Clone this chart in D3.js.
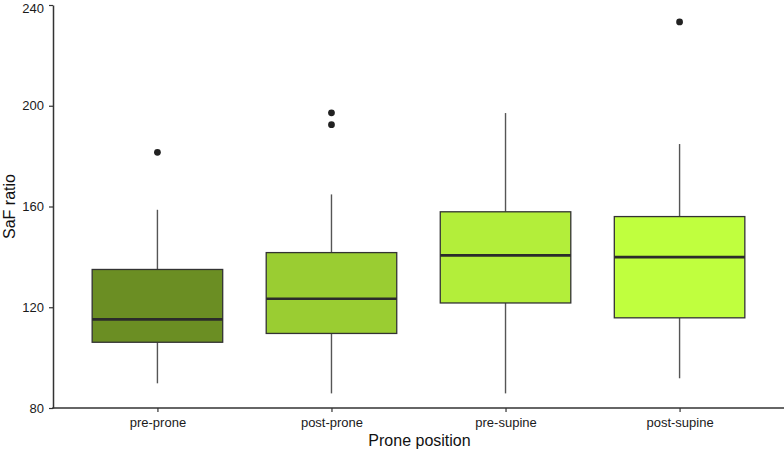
<!DOCTYPE html>
<html>
<head>
<meta charset="utf-8">
<script src="https://cdn.jsdelivr.net/npm/d3@7"></script>
<style>
body { margin: 0; background: #fff; }
text { font-family: "Liberation Sans", Arial, sans-serif; }
</style>
</head>
<body>
<svg id="chart" width="784" height="452"></svg>
<script>
// groups along the x axis
var groups = ["pre-prone", "post-prone", "pre-supine", "post-supine"];
// box statistics
var whiskerLow  = [89.8, 85.8, 85.8, 91.8];
var q1          = [106.1, 109.6, 121.7, 115.8];
var median      = [115.2, 123.4, 140.6, 139.9];
var q3          = [135.0, 141.7, 157.9, 156.0];
var whiskerHigh = [158.7, 164.8, 197.1, 184.8];
var outliers    = [[181.5], [192.5, 197.2], [], [233.3]];
var fills       = ["#6b8e23", "#9acd32", "#b3ee3a", "#c0ff3e"];
var yTicks      = [80, 120, 160, 200, 240];

var svg = d3.select("#chart"),
    margin = {top: 5, right: 0, bottom: 44, left: 53},
    width = +svg.attr("width"),
    height = +svg.attr("height");

var x = d3.scalePoint().domain(groups)
        .range([margin.left, width - margin.right]).padding(0.6);
var y = d3.scaleLinear().domain([80, 240])
        .range([height - margin.bottom, margin.top]);

var boxW = x.step() * 0.75;

var data = groups.map(function(g, i){
	return {g: g, lo: whiskerLow[i], q1: q1[i], med: median[i], q3: q3[i],
	        hi: whiskerHigh[i], out: outliers[i], fill: fills[i]};
});

var box = svg.append("g").selectAll("g.box")
	.data(data).enter().append("g").attr("class", "box");

// whiskers
box.append("line")
	.attr("x1", function(d){ return x(d.g); })
	.attr("x2", function(d){ return x(d.g); })
	.attr("y1", function(d){ return y(d.q3); })
	.attr("y2", function(d){ return y(d.hi); })
	.attr("stroke", "#555").attr("stroke-width", 1.4);
box.append("line")
	.attr("x1", function(d){ return x(d.g); })
	.attr("x2", function(d){ return x(d.g); })
	.attr("y1", function(d){ return y(d.q1); })
	.attr("y2", function(d){ return y(d.lo); })
	.attr("stroke", "#555").attr("stroke-width", 1.4);

// boxes
box.append("rect")
	.attr("x", function(d){ return x(d.g) - boxW / 2; })
	.attr("width", boxW)
	.attr("y", function(d){ return y(d.q3); })
	.attr("height", function(d){ return y(d.q1) - y(d.q3); })
	.attr("fill", function(d){ return d.fill; })
	.attr("stroke", "#333").attr("stroke-width", 1.3);

// medians
box.append("line")
	.attr("x1", function(d){ return x(d.g) - boxW / 2; })
	.attr("x2", function(d){ return x(d.g) + boxW / 2; })
	.attr("y1", function(d){ return y(d.med); })
	.attr("y2", function(d){ return y(d.med); })
	.attr("stroke", "#2b2b2b").attr("stroke-width", 2.6);

// outliers
box.selectAll("circle")
	.data(function(d){ return d.out.map(function(v){ return {g: d.g, v: v}; }); })
	.enter().append("circle")
	.attr("cx", function(d){ return x(d.g); })
	.attr("cy", function(d){ return y(d.v); })
	.attr("r", 3.4)
	.attr("fill", "#222");

// axes
var yAxis = svg.append("g")
	.attr("transform", "translate(" + margin.left + ",0)")
	.call(d3.axisLeft(y).tickValues(yTicks).tickSize(4).tickPadding(5).tickSizeOuter(0));
var xAxis = svg.append("g")
	.attr("transform", "translate(0," + (height - margin.bottom) + ")")
	.call(d3.axisBottom(x).tickSize(4).tickPadding(6).tickSizeOuter(0));

[xAxis, yAxis].forEach(function(a){
	a.select(".domain").attr("stroke", "#333").attr("stroke-width", 1.5);
	a.selectAll(".tick line").attr("stroke", "#333").attr("stroke-width", 1.2);
	a.selectAll(".tick text").attr("fill", "#1a1a1a").style("font-size", "13px")
		.style("font-family", "'Liberation Sans', Arial, sans-serif");
});
// keep the top label inside the page
yAxis.selectAll(".tick text").filter(function(d){ return d === 240; }).attr("dy", "0.55em");
// extend x axis line to meet y axis
xAxis.select(".domain").attr("d", "M" + (margin.left - 0.75) + ",0H" + width);

// axis titles
svg.append("text")
	.attr("x", (margin.left + width) / 2 + 1)
	.attr("y", 446)
	.attr("text-anchor", "middle")
	.style("font-size", "16px")
	.attr("fill", "#111")
	.text("Prone position");

svg.append("text")
	.attr("transform", "translate(15," + ((y(80) + y(240)) / 2) + ") rotate(-90)")
	.attr("text-anchor", "middle")
	.style("font-size", "16px")
	.attr("fill", "#111")
	.text("SaF ratio");
</script>
</body>
</html>
